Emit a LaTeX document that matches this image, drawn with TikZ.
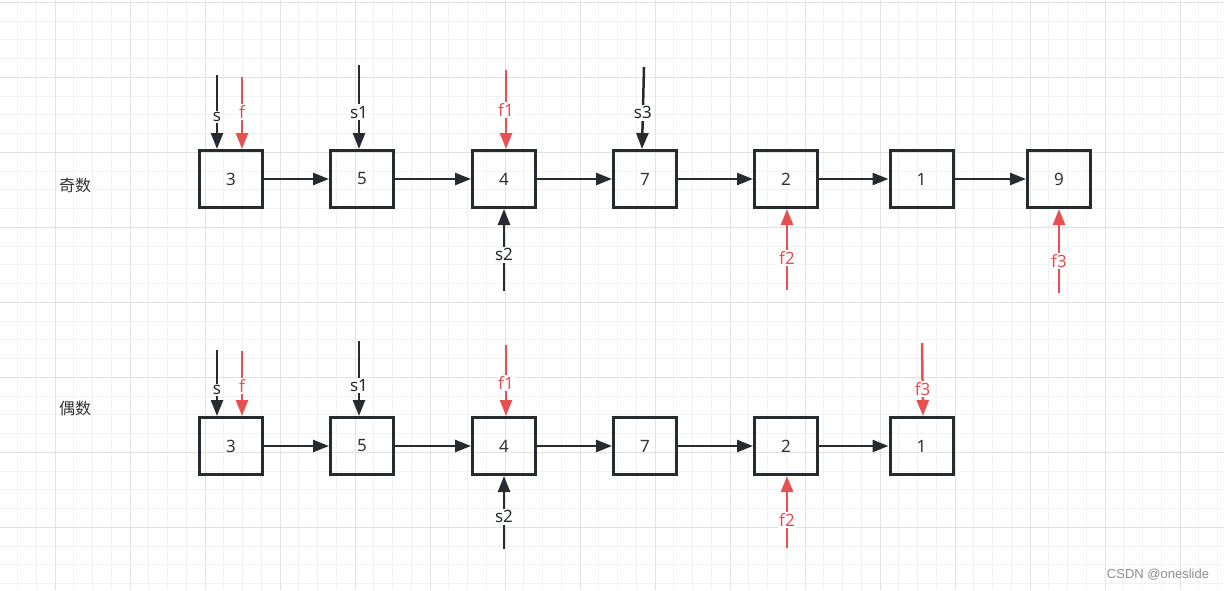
\documentclass[tikz,border=0pt]{standalone}
\usepackage{fontspec}
\setmainfont{Noto Sans}
\newfontfamily\cjk{Noto Sans CJK SC}
\newfontfamily\markfont{Liberation Sans}
\usetikzlibrary{arrows.meta,positioning,calc}
\definecolor{linedark}{RGB}{38,43,48}
\definecolor{ptrred}{RGB}{230,80,80}
\definecolor{txtgray}{RGB}{51,51,51}
\definecolor{gridmajor}{RGB}{226,226,226}
\definecolor{gridminor}{RGB}{242,242,242}
\tikzset{>={Triangle[length=16pt,width=12pt]}}
\tikzset{
  cell/.style={draw=linedark,line width=3pt,minimum width=63pt,minimum height=57pt,inner sep=0pt,text=txtgray,font=\fontsize{17}{17}\selectfont},
  link/.style={->,line width=2.5pt,linedark},
  slowptr/.style={->,line width=2.5pt,linedark},
  fastptr/.style={->,line width=2.5pt,ptrred},
  tag/.style={fill=white,inner sep=1.5pt,font=\fontsize{17}{17}\selectfont},
}
\begin{document}
\begin{tikzpicture}[x=1pt,y=-1pt]
            \useasboundingbox (0,0) rectangle (1224,590);
            % grid
            \foreach \i in {-2,...,62} \draw[gridminor,line width=1pt] ({55+18.75*\i},0) -- ({55+18.75*\i},590);
            \foreach \j in {0,...,31} \draw[gridminor,line width=1pt] (0,{2.3+18.75*\j}) -- (1224,{2.3+18.75*\j});
            \foreach \i in {-1,...,15} \draw[gridmajor,line width=1pt] ({55+75*\i},0) -- ({55+75*\i},590);
            \foreach \j in {0,...,7} \draw[gridmajor,line width=1pt] (0,{2.3+75*\j}) -- (1224,{2.3+75*\j});
            % odd row
            \node[font=\cjk\fontsize{16}{16}\selectfont,text=txtgray] (odd) at (75,185) {奇数};
            \node[cell] (o3) at (231,179) {3};
            \node[cell] (o5) at (362,179) {5};
            \node[cell] (o4) at (504,179) {4};
            \node[cell] (o7) at (645,179) {7};
            \node[cell] (o2) at (786,179) {2};
            \node[cell] (o1) at (921.5,179) {1};
            \node[cell] (o9) at (1059,179) {9};
            \draw [link] (o3) -- (o5);
            \draw [link] (o5) -- (o4);
            \draw [link] (o4) -- (o7);
            \draw [link] (o7) -- (o2);
            \draw [link] (o2) -- (o1);
            \draw [link] (o1) -- (o9);
            \coordinate (os) at (217,75);
            \coordinate (of) at (242,77);
            \coordinate (os1) at (359,65);
            \coordinate (of1) at (506,70);
            \coordinate (os3) at (644,67);
            \coordinate (os2) at (504,291);
            \coordinate (of2) at (787,290);
            \coordinate (of3) at (1059,293);
            \draw [slowptr] (os) -- node [tag,pos=0.57] {s} (os |- o3.north);
            \draw [fastptr] (of) -- node [tag,pos=0.49] {f} (of |- o3.north);
            \draw [slowptr] (os1) -- node [tag,pos=0.56] {s1} (os1 |- o5.north);
            \draw [fastptr] (of1) -- node [tag,pos=0.51] {f1} (of1 |- o4.north);
            \draw [slowptr] (os3) -- node [tag,pos=0.56] {s3} ($(o7.north)+(-3,0)$);
            \draw [slowptr] (os2) -- node [tag,pos=0.44] {s2} (os2 |- o4.south);
            \draw [fastptr] (of2) -- node [tag,pos=0.40] {f2} (of2 |- o2.south);
            \draw [fastptr] (of3) -- node [tag,pos=0.38] {f3} (of3 |- o9.south);
            % even row
            \node[font=\cjk\fontsize{16}{16}\selectfont,text=txtgray] (even) at (75,408) {偶数};
            \node[cell] (e3) at (231,446) {3};
            \node[cell] (e5) at (362,446) {5};
            \node[cell] (e4) at (504,446) {4};
            \node[cell] (e7) at (645,446) {7};
            \node[cell] (e2) at (786,446) {2};
            \node[cell] (e1) at (921.5,446) {1};
            \draw [link] (e3) -- (e5);
            \draw [link] (e5) -- (e4);
            \draw [link] (e4) -- (e7);
            \draw [link] (e7) -- (e2);
            \draw [link] (e2) -- (e1);
            \coordinate (es) at (217,350);
            \coordinate (ef) at (242,351);
            \coordinate (es1) at (359,341);
            \coordinate (ef1) at (506,345);
            \coordinate (ef3) at (922,343);
            \coordinate (es2) at (504,549);
            \coordinate (ef2) at (787,548);
            \draw [slowptr] (es) -- node [tag,pos=0.61] {s} (es |- e3.north);
            \draw [fastptr] (ef) -- node [tag,pos=0.54] {f} (ef |- e3.north);
            \draw [slowptr] (es1) -- node [tag,pos=0.59] {s1} (es1 |- e5.north);
            \draw [fastptr] (ef1) -- node [tag,pos=0.54] {f1} (ef1 |- e4.north);
            \draw [fastptr] (ef3) -- node [tag,pos=0.63] {f3} ($(e1.north)+(1.5,0)$);
            \draw [slowptr] (es2) -- node [tag,pos=0.44] {s2} (es2 |- e4.south);
            \draw [fastptr] (ef2) -- node [tag,pos=0.39] {f2} (ef2 |- e2.south);
            \node[text=black!45,font=\markfont\fontsize{13}{13}\selectfont] (mark) at (1158,575) {CSDN @oneslide};
\end{tikzpicture}
\end{document}
